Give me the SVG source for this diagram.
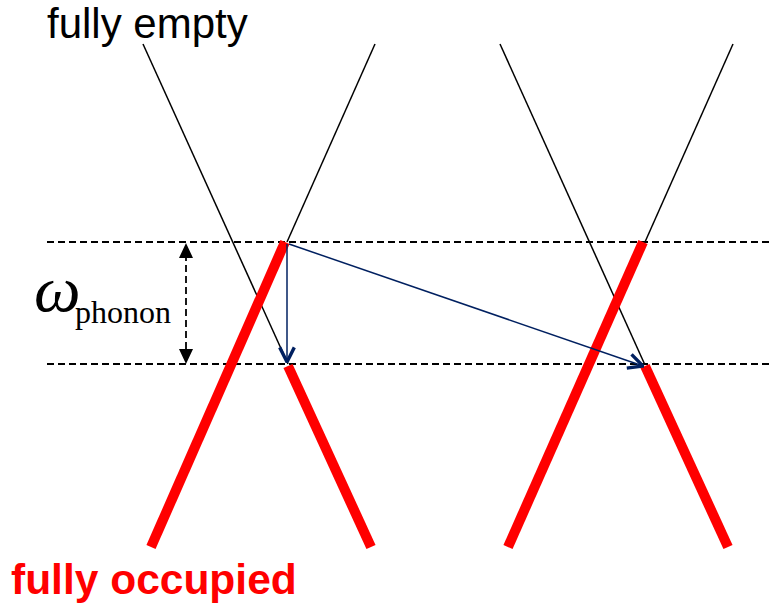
<svg xmlns="http://www.w3.org/2000/svg" width="773" height="606" viewBox="0 0 773 606">
<style>
.blk{stroke:#000;stroke-width:1.5;fill:none}
.red{stroke:#ff0000;stroke-width:10;fill:none}
.dash{stroke:#000;stroke-width:1.8;stroke-dasharray:7,4;fill:none}
.blue{stroke:#002060;stroke-width:1.5;fill:none}
</style>
<defs>
<marker id="open" viewBox="0 0 16 16" refX="15" refY="8" markerWidth="18" markerHeight="18" markerUnits="userSpaceOnUse" orient="auto">
<path d="M2,1.5 L15,8 L2,14.5" fill="none" stroke="#002060" stroke-width="3"/>
</marker>
</defs>
<rect width="773" height="606" fill="#fff"/>
<g id="guides">
<line class="dash" x1="47" y1="242" x2="773" y2="242"/>
<line class="dash" x1="47" y1="364" x2="773" y2="364"/>
</g>
<g id="band-left">
<line class="blk" x1="143" y1="44" x2="288" y2="364"/>
<line class="blk" x1="375" y1="44" x2="287" y2="242"/>
<line class="red" x1="151" y1="547" x2="285" y2="242"/>
<line class="red" x1="288" y1="366" x2="371" y2="547"/>
</g>
<g id="band-right">
<line class="blk" x1="500" y1="44" x2="645" y2="365"/>
<line class="blk" x1="733" y1="44" x2="645" y2="242"/>
<line class="red" x1="508" y1="547" x2="643" y2="242"/>
<line class="red" x1="645" y1="366" x2="728" y2="547"/>
</g>
<g id="connectors">
<line class="blue" x1="287" y1="244" x2="287" y2="362" marker-end="url(#open)"/>
<line class="blue" x1="289" y1="244" x2="643" y2="366" marker-end="url(#open)"/>
<line class="dash" x1="186" y1="254" x2="186" y2="352"/>
<path d="M179,258 L186,243 L193,258 Z" fill="#000"/>
<path d="M179,349 L186,364 L193,349 Z" fill="#000"/>
</g>
<g id="labels">
<text x="47" y="38" font-family="Liberation Sans, Arial, sans-serif" font-size="42" fill="#000">fully empty</text>
<text x="11" y="594" font-family="Liberation Sans, Arial, sans-serif" font-size="42.5" font-weight="bold" fill="#ff0000">fully occupied</text>
<text x="34" y="311" font-family="Liberation Serif, Times New Roman, serif" font-size="66" font-style="italic" fill="#000">ω</text>
<text x="75" y="323" font-family="Liberation Serif, Times New Roman, serif" font-size="32" fill="#000">phonon</text>
</g>
</svg>
